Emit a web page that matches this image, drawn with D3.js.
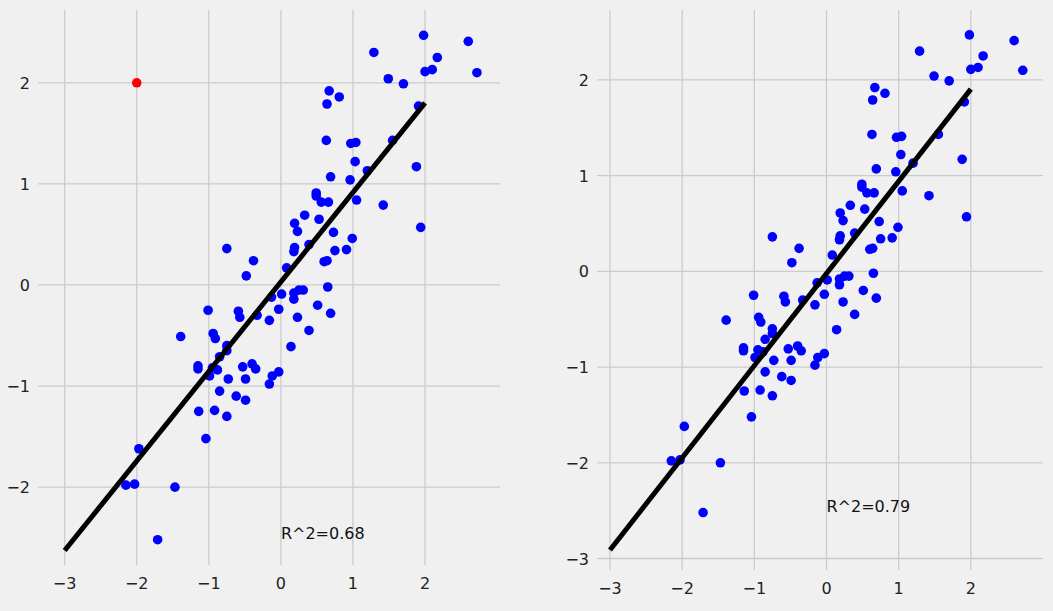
<!DOCTYPE html><html><head><meta charset="utf-8">
<script src="https://cdn.jsdelivr.net/npm/d3@7"></script>
<style>body{margin:0;background:#f0f0f0}svg{display:block}text{font-family:"DejaVu Sans";}</style></head><body>
<svg id="c" width="1053" height="611"></svg>
<script>
const xs=[1.98,2.60,1.29,2.17,2.00,2.10,2.72,1.49,1.70,0.67,0.81,0.64,1.91,0.63,0.97,1.04,1.55,1.03,1.20,1.88,0.69,0.96,0.49,0.49,0.56,0.66,1.05,1.42,0.33,0.19,0.53,0.23,0.73,1.94,0.19,0.18,0.39,0.99,0.75,0.91,0.08,0.60,0.64,-0.75,-0.38,-0.48,0.65,
-0.13,0.01,0.18,0.25,0.31,0.18,0.51,0.69,-0.03,-0.16,0.23,0.39,0.14,-0.33,-0.59,-0.57,-1.01,-1.39,-0.94,-0.91,-0.75,-0.75,-0.85,-1.15,-1.15,-0.95,-0.88,-0.99,-0.73,-0.53,-0.40,-0.35,-0.49,-0.12,-0.03,-0.16,-0.85,-0.62,-0.49,-1.14,-0.92,-0.75,-1.04,-1.97,-2.15,-2.03,-1.47,-1.71];
const ys=[2.47,2.41,2.30,2.25,2.11,2.13,2.10,2.04,1.99,1.92,1.86,1.79,1.77,1.43,1.40,1.41,1.43,1.22,1.13,1.17,1.07,1.04,0.91,0.88,0.82,0.82,0.84,0.79,0.69,0.61,0.65,0.53,0.52,0.57,0.37,0.33,0.40,0.46,0.34,0.35,0.17,0.23,0.24,0.36,0.24,0.09,-0.02,
-0.12,-0.09,-0.08,-0.05,-0.05,-0.14,-0.20,-0.28,-0.24,-0.35,-0.32,-0.45,-0.61,-0.30,-0.26,-0.32,-0.25,-0.51,-0.48,-0.53,-0.60,-0.65,-0.71,-0.80,-0.83,-0.82,-0.84,-0.90,-0.93,-0.81,-0.78,-0.83,-0.93,-0.90,-0.86,-0.98,-1.05,-1.10,-1.14,-1.25,-1.24,-1.30,-1.52,-1.62,-1.98,-1.97,-2.00,-2.52];
const outlier=[-2,2];
const xTicks=[-3,-2,-1,0,1,2];
const yTicksL=[-2,-1,0,1,2];
const yTicksR=[-3,-2,-1,0,1,2];
const labels=["R^2=0.68","R^2=0.79"];

const svg=d3.select("#c");
function fit(X,Y){const mx=d3.mean(X),my=d3.mean(Y);let sxy=0,sxx=0;X.forEach((x,i)=>{sxy+=(x-mx)*(Y[i]-my);sxx+=(x-mx)**2});const b=sxy/sxx;return [b,my-b*mx];}
function panel(px,py,xd,yd,yt,withOut,label){
  const x=d3.scaleLinear().domain(xd).range(px),y=d3.scaleLinear().domain(yd).range(py);
  const g=svg.append("g");
  xTicks.forEach(t=>g.append("line").attr("x1",x(t)).attr("x2",x(t)).attr("y1",py[1]).attr("y2",py[0]).attr("stroke","#cbcbcb").attr("stroke-width",1.3));
  yt.forEach(t=>g.append("line").attr("x1",px[0]).attr("x2",px[1]).attr("y1",y(t)).attr("y2",y(t)).attr("stroke","#cbcbcb").attr("stroke-width",1.3));
  xTicks.forEach(t=>g.append("text").attr("x",x(t)).attr("y",py[0]+24).attr("text-anchor","middle").attr("font-size",16).attr("fill","#222").text(d3.format("")(t).replace("-","\u2212")));
  yt.forEach(t=>g.append("text").attr("x",px[0]-8).attr("y",y(t)+6).attr("text-anchor","end").attr("font-size",16).attr("fill","#222").text(String(t).replace("-","\u2212")));
  const X=withOut?xs.concat([outlier[0]]):xs,Y=withOut?ys.concat([outlier[1]]):ys;
  const [b,a]=fit(X,Y);
  g.selectAll(".d").data(xs).enter().append("circle").attr("cx",d=>x(d)).attr("cy",(d,i)=>y(ys[i])).attr("r",4.8).attr("fill","#0000ff");
  if(withOut)g.append("circle").attr("cx",x(outlier[0])).attr("cy",y(outlier[1])).attr("r",4.8).attr("fill","#ff0000");
  g.append("line").attr("x1",x(-3)).attr("y1",y(a-3*b)).attr("x2",x(2)).attr("y2",y(a+2*b)).attr("stroke","#000").attr("stroke-width",5);
  g.append("text").attr("x",x(0)).attr("y",y(-2.45)+6).attr("font-size",16).attr("fill","#111").text(label);
}
panel([38,500],[565,10],[-3.37,3.04],[-2.77,2.72],yTicksL,true,labels[0]);
panel([597,1043],[570,10],[-3.18,3.0],[-3.12,2.73],yTicksR,false,labels[1]);
</script></body></html>
